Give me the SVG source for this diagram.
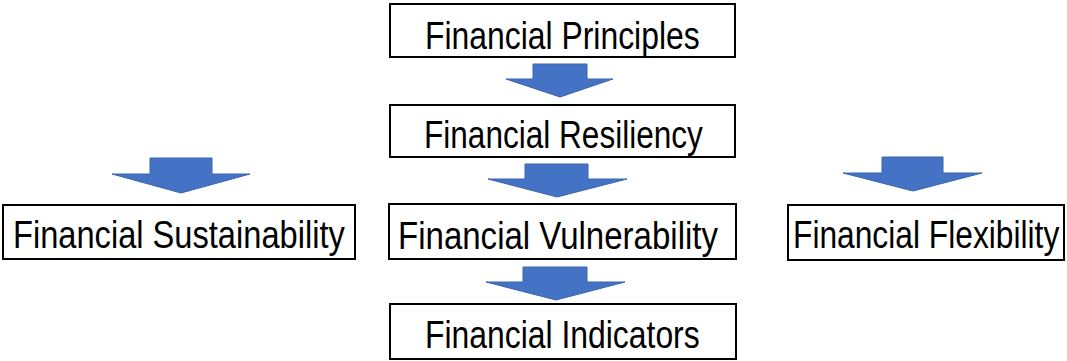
<svg xmlns="http://www.w3.org/2000/svg" width="1067" height="361" viewBox="0 0 1067 361">
<style>
.box{fill:#fff;stroke:#000;stroke-width:2}
.lbl{font-family:"Liberation Sans",Arial,sans-serif;font-size:38px;fill:#000;text-anchor:start}
.arr{fill:#4472C4;stroke:#3A64AE;stroke-width:1}
</style>
<rect width="1067" height="361" fill="#fff"/>
<g id="connectors">
<polygon class="arr" points="533,64 587,64 587,79 613,79 560,97 506,79 533,79"/>
<polygon class="arr" points="525,164 588,164 588,179 627,179 557,197 488,179 525,179"/>
<polygon class="arr" points="523,267 587,267 587,282 625,282 556,300 486,282 523,282"/>
<polygon class="arr" points="150,158 212,158 212,174 250,174 181,193 112,174 150,174"/>
<polygon class="arr" points="882,157 943,157 943,173 982,173 913,191 843,173 882,173"/>
</g>
<g id="principles">
<rect class="box" x="390" y="4" width="345" height="53"/>
<text class="lbl" transform="translate(425,49) scale(0.84,1)" textLength="327" lengthAdjust="spacingAndGlyphs">Financial Principles</text>
</g>
<g id="resiliency">
<rect class="box" x="390" y="105" width="345" height="52"/>
<text class="lbl" transform="translate(424,148) scale(0.84,1)" textLength="332" lengthAdjust="spacingAndGlyphs">Financial Resiliency</text>
</g>
<g id="sustainability">
<rect class="box" x="3" y="205" width="352" height="54"/>
<text class="lbl" transform="translate(13,248) scale(0.84,1)" textLength="395" lengthAdjust="spacingAndGlyphs">Financial Sustainability</text>
</g>
<g id="vulnerability">
<rect class="box" x="389" y="204" width="347" height="55"/>
<text class="lbl" transform="translate(398,249) scale(0.84,1)" textLength="381" lengthAdjust="spacingAndGlyphs">Financial Vulnerability</text>
</g>
<g id="flexibility">
<rect class="box" x="788" y="205" width="276" height="55"/>
<text class="lbl" transform="translate(793,248) scale(0.84,1)" textLength="317" lengthAdjust="spacingAndGlyphs">Financial Flexibility</text>
</g>
<g id="indicators">
<rect class="box" x="390" y="304" width="346" height="55"/>
<text class="lbl" transform="translate(425,348) scale(0.84,1)" textLength="327" lengthAdjust="spacingAndGlyphs">Financial Indicators</text>
</g>
</svg>
